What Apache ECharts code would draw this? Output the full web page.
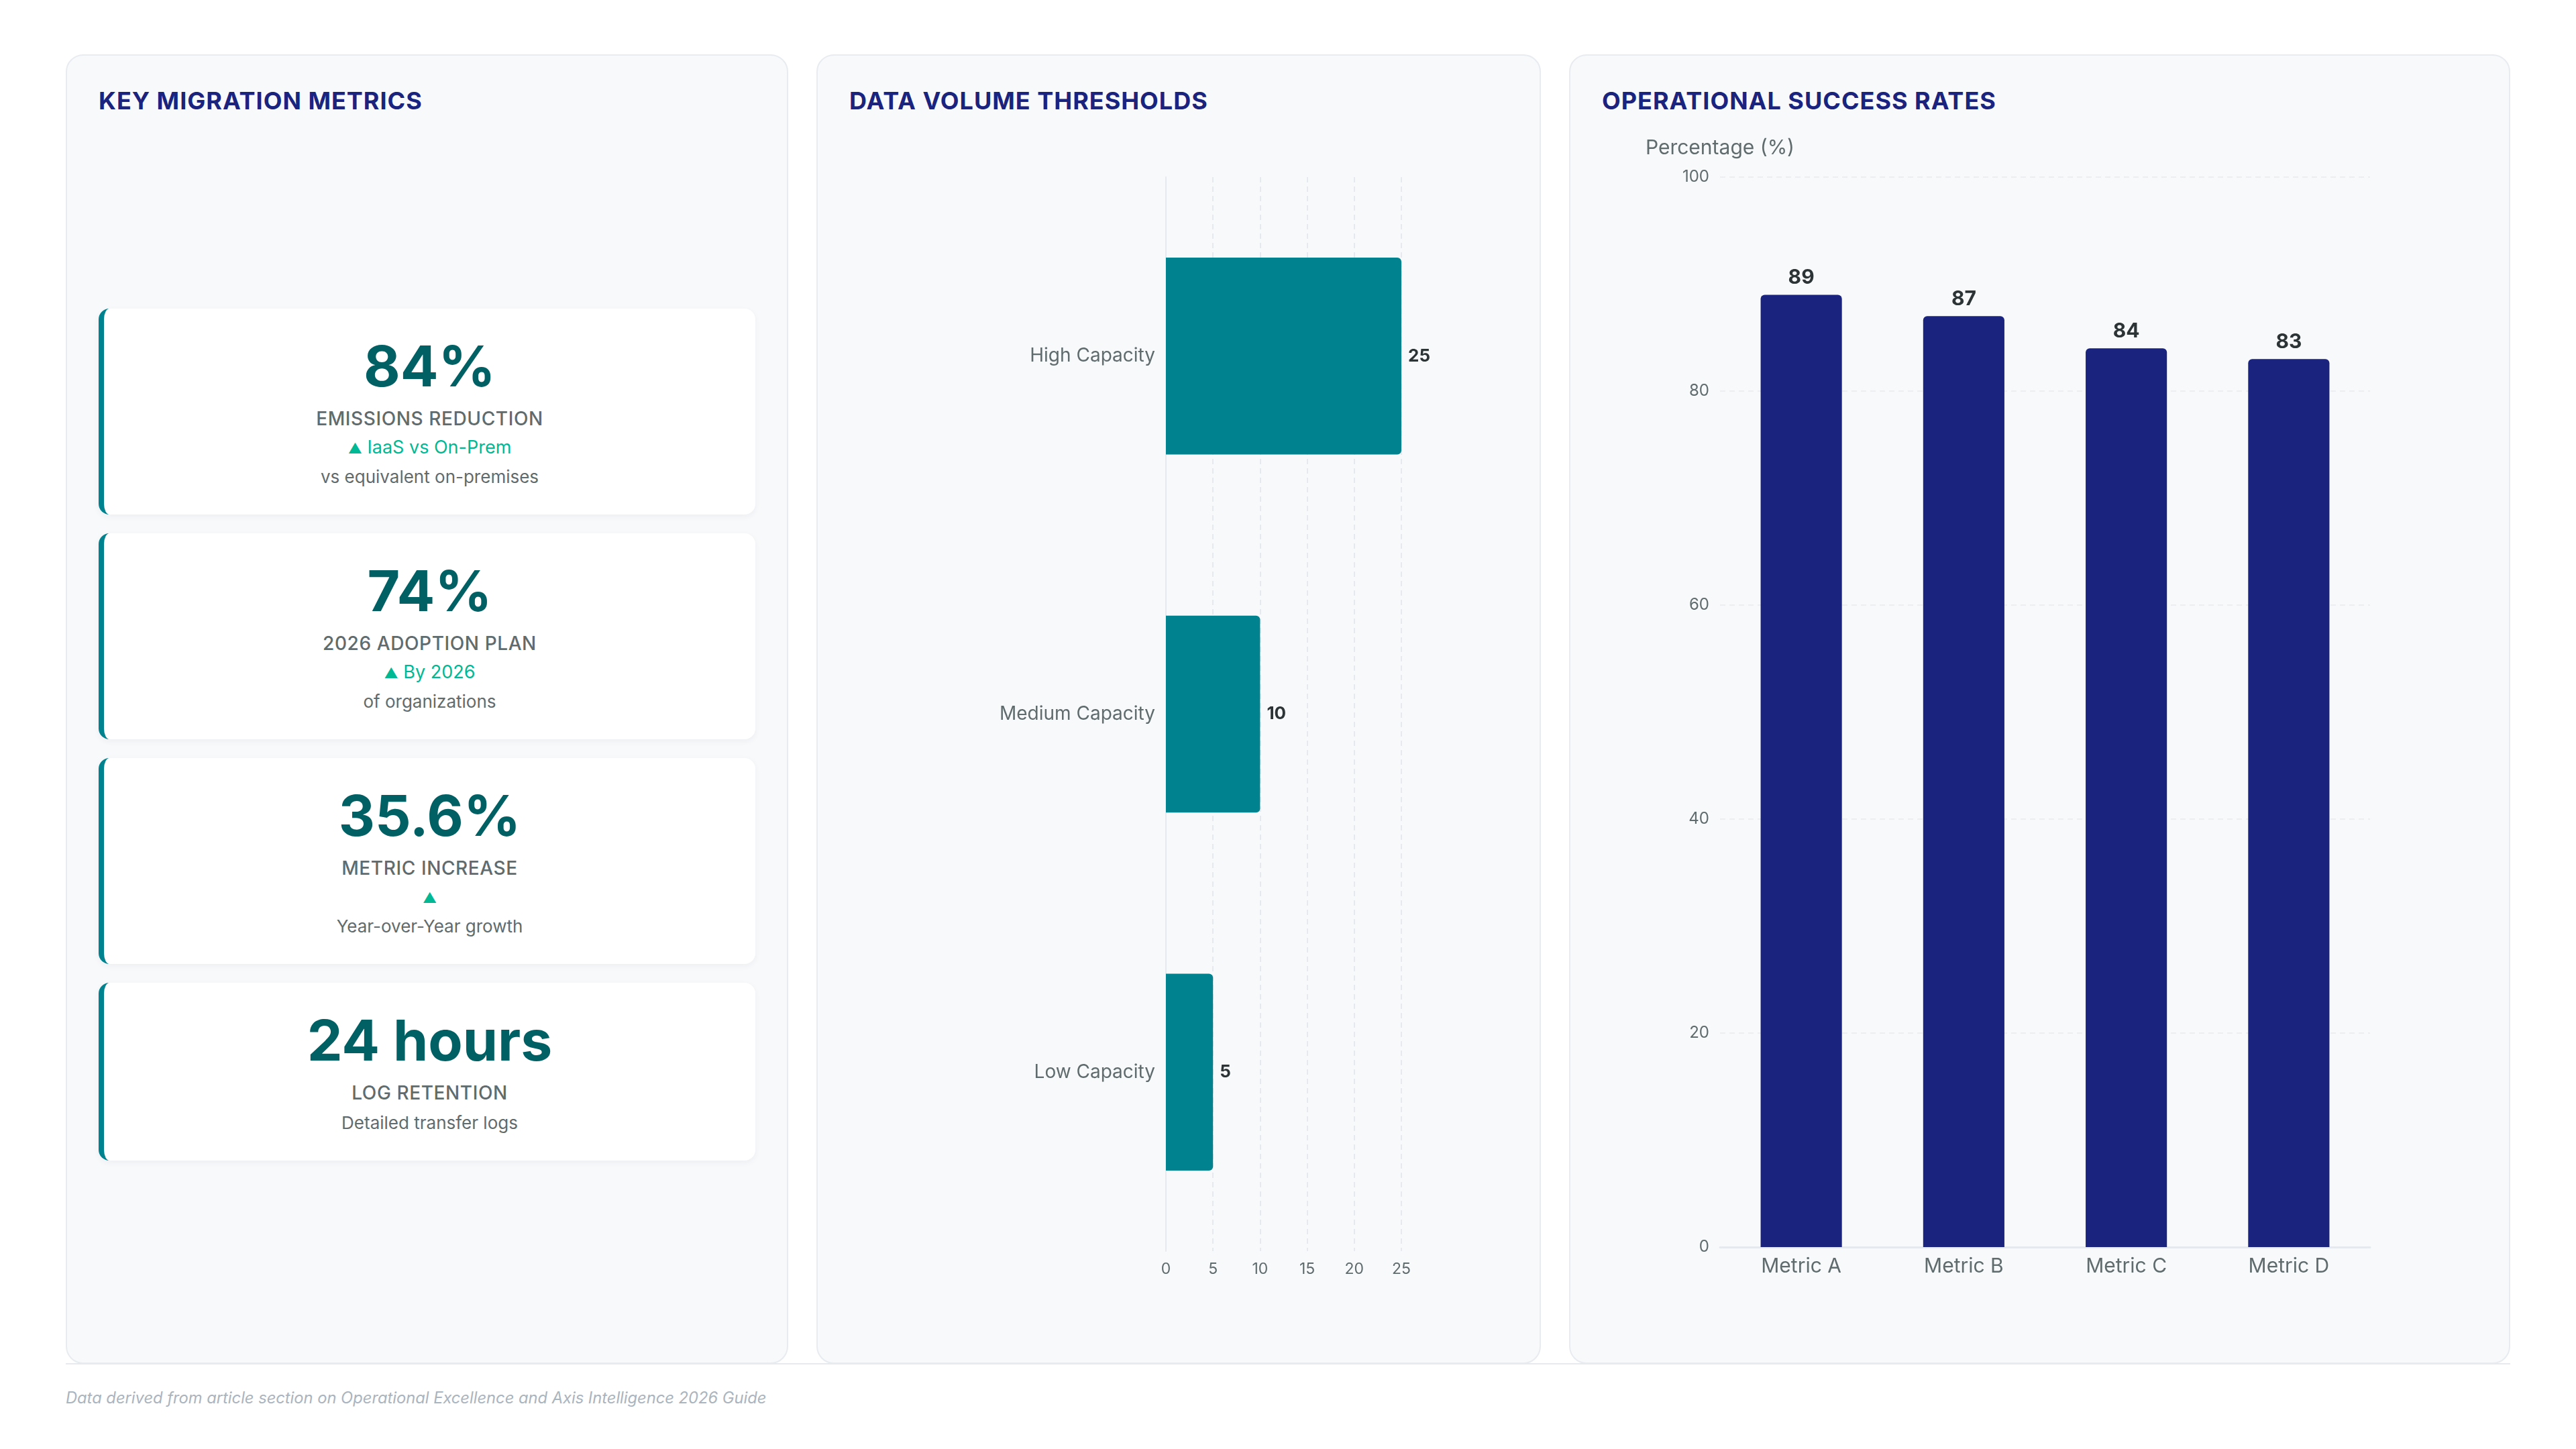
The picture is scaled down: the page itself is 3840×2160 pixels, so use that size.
<!DOCTYPE html>
<html>
<head>
<meta charset="utf-8">
<script src="https://cdn.jsdelivr.net/npm/echarts@6/dist/echarts.min.js"></script>
<style>
  html, body { margin: 0; padding: 0; background: #ffffff; }
  body { width: 3840px; height: 2160px; position: relative; font-family: Inter, "Noto Sans", sans-serif; overflow: hidden; }
  .panel {
    position: absolute; top: 81px; height: 1952px; box-sizing: border-box;
    background: #f8f9fb; border: 2px solid #e8ebef; border-radius: 26px;
  }
  .panel-title {
    position: absolute; left: 47px; top: 46px; margin: 0;
    font-size: 36px; line-height: 1.2; font-weight: 700; letter-spacing: 1px; color: #1a237e;
  }
  .chart { position: absolute; left: 47px; right: 47px; top: 118px; bottom: 47px; }
  .cards { position: absolute; left: 47px; right: 47px; top: 377px; }
  .card {
    box-sizing: border-box; background: #ffffff; border-left: 8px solid #00838f; border-radius: 16px;
    box-shadow: 0 3px 10px rgba(30, 40, 60, 0.05); padding: 40px 20px 40px; margin-bottom: 28px;
    text-align: center;
  }
  .kpi-value { font-size: 84px; line-height: 92px; font-weight: 700; color: #006064; }
  .kpi-label { font-size: 28px; line-height: 36px; margin-top: 14px; color: #5f6b6d; letter-spacing: 0.6px; font-weight: 450; }
  .kpi-trend { font-size: 27px; line-height: 34px; height: 34px; margin-top: 8px; color: #00b894; }
  .kpi-trend .arrow { font-size: 21px; line-height: 0; }
  .kpi-note { font-size: 26px; line-height: 32px; height: 32px; margin-top: 11px; color: #5f6b6d; }
  .rule { position: absolute; left: 98px; top: 2032px; width: 3644px; height: 2px; background: #e6e9ed; }
  .footer {
    position: absolute; left: 98px; top: 2070px; font-size: 23.7px; line-height: 1.2;
    font-style: italic; color: #aab4be;
  }
</style>
</head>
<body>
  <div class="rule"></div>
  <div class="panel" style="left:98px;width:1077px;">
    <h2 class="panel-title">KEY MIGRATION METRICS</h2>
    <div class="cards" id="cards"></div>
  </div>
  <div class="panel" style="left:1217px;width:1080px;">
    <h2 class="panel-title">DATA VOLUME THRESHOLDS</h2>
    <div class="chart" id="volumeChart"></div>
  </div>
  <div class="panel" style="left:2339px;width:1403px;">
    <h2 class="panel-title">OPERATIONAL SUCCESS RATES</h2>
    <div class="chart" id="successChart"></div>
  </div>
  <div class="footer">Data derived from article section on Operational Excellence and Axis Intelligence 2026 Guide</div>

<script>
  // key metrics
  const kpiValues = ['84%', '74%', '35.6%', '24 hours']
  const kpiLabels = ['EMISSIONS REDUCTION', '2026 ADOPTION PLAN', 'METRIC INCREASE', 'LOG RETENTION']
  const kpiTrends = ['IaaS vs On-Prem', 'By 2026', '', null]
  const kpiNotes = ['vs equivalent on-premises', 'of organizations', 'Year-over-Year growth', 'Detailed transfer logs']

  // data volume thresholds
  const capacityCategories = ['High Capacity', 'Medium Capacity', 'Low Capacity']
  const capacityValues = [25, 10, 5]

  // operational success rates
  const metricCategories = ['Metric A', 'Metric B', 'Metric C', 'Metric D']
  const successRates = [89, 87, 84, 83]

  const gray = '#5f6b6d'
  const dark = '#2d3436'
  const font = 'Inter'

  const cards = document.getElementById('cards')
  kpiValues.forEach((val, i) => {
    const card = document.createElement('div')
    card.className = 'card'
    let html = `<div class="kpi-value">${val}</div><div class="kpi-label">${kpiLabels[i]}</div>`
    if (kpiTrends[i] !== null) {
      html += `<div class="kpi-trend"><span class="arrow">▲</span> ${kpiTrends[i]}</div>`
    }
    html += `<div class="kpi-note">${kpiNotes[i]}</div>`
    card.innerHTML = html
    cards.appendChild(card)
  })

  const volumeChart = echarts.init(document.getElementById('volumeChart'))
  volumeChart.setOption({
    animation: false,
    textStyle: { fontFamily: font },
    grid: { left: 472, right: 159, top: 63, bottom: 119 },
    xAxis: {
      type: 'value',
      min: 0,
      max: 25,
      interval: 5,
      axisLine: { show: false },
      axisTick: { show: false },
      axisLabel: { color: gray, fontSize: 23, margin: 16, fontFamily: font },
      splitLine: { lineStyle: { color: '#e6e9ed', width: 2, type: [8, 6] } }
    },
    yAxis: {
      type: 'category',
      inverse: true,
      data: capacityCategories,
      axisLine: { show: true, lineStyle: { color: '#e6e9ed', width: 2 } },
      axisTick: { show: false },
      axisLabel: { color: gray, fontSize: 28, margin: 16, fontFamily: font }
    },
    series: [{
      type: 'bar',
      data: capacityValues,
      barWidth: '55%',
      itemStyle: { color: '#00838f', borderRadius: [0, 6, 6, 0] },
      label: {
        show: true,
        position: 'right',
        distance: 10,
        color: dark,
        fontSize: 26,
        fontWeight: 'bold',
        fontFamily: font
      }
    }]
  })

  const successChart = echarts.init(document.getElementById('successChart'))
  successChart.setOption({
    animation: false,
    textStyle: { fontFamily: font },
    grid: { left: 176, right: 160, top: 63, bottom: 125 },
    xAxis: {
      type: 'category',
      data: metricCategories,
      axisLine: { show: true, lineStyle: { color: '#e6e9ed', width: 3 } },
      axisTick: { show: false },
      axisLabel: { color: gray, fontSize: 30, margin: 14, fontFamily: font }
    },
    yAxis: {
      type: 'value',
      min: 0,
      max: 100,
      interval: 20,
      name: 'Percentage (%)',
      nameGap: 28,
      nameTextStyle: { color: gray, fontSize: 30, fontFamily: font },
      axisLine: { show: false },
      axisTick: { show: false },
      axisLabel: { color: gray, fontSize: 24, margin: 16, fontFamily: font },
      splitLine: { lineStyle: { color: '#eceef1', width: 2, type: [8, 6] } }
    },
    series: [{
      type: 'bar',
      data: successRates,
      barWidth: '50%',
      itemStyle: { color: '#1a237e', borderRadius: [6, 6, 0, 0] },
      label: {
        show: true,
        position: 'top',
        distance: 10,
        color: dark,
        fontSize: 30,
        fontWeight: 'bold',
        fontFamily: font
      }
    }]
  })
</script>
</body>
</html>
